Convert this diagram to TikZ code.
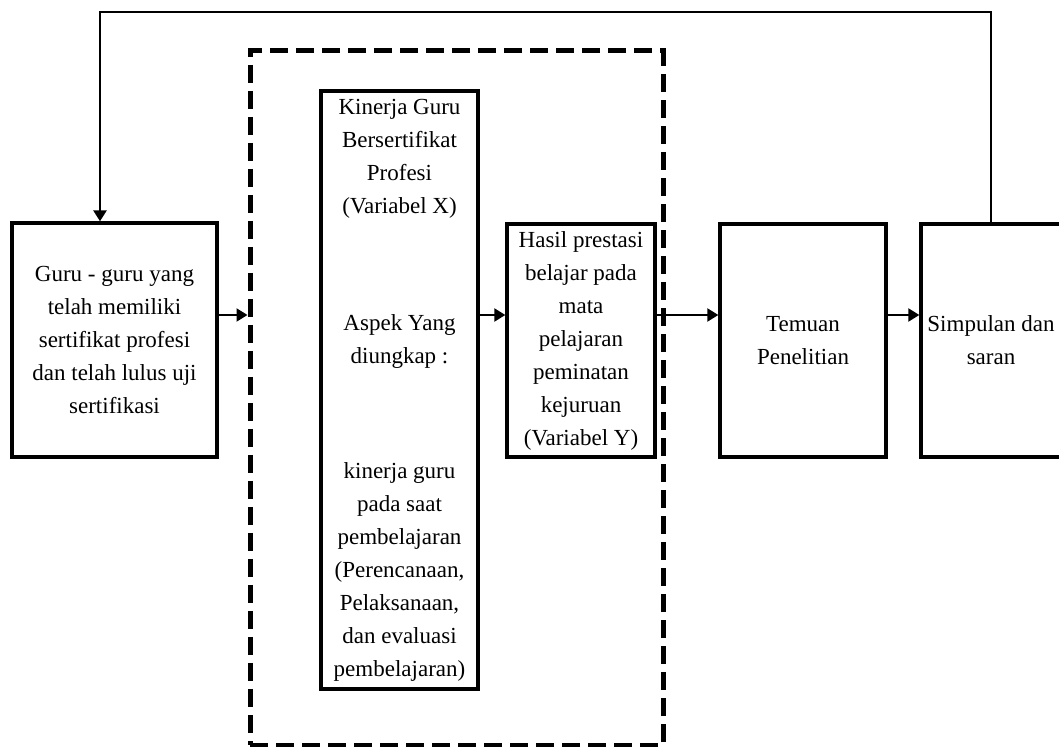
\documentclass[tikz,border=0pt]{standalone}
\usepackage{fontspec}
\setmainfont{Liberation Serif}
\usetikzlibrary{arrows.meta}

\begin{document}
\begin{tikzpicture}[x=0.5pt,y=-0.5pt]
\tikzstyle{box}=[draw, black, line width=1.65pt, align=center, inner sep=0pt, font=\fontsize{11.5pt}{16.5pt}\selectfont]
\tikzstyle{arr}=[black, line width=1pt, -{Triangle[length=5.5pt,width=6.5pt]}]
\tikzstyle{frame}=[draw, black, line width=2.5pt, dash pattern=on 9pt off 4pt, inner sep=0pt]
\useasboundingbox (0,0) rectangle (1059,747);
\node [box, minimum width=102.5pt, minimum height=117pt] (guru) at (114.5,340) {Guru - guru yang\\telah memiliki\\sertifikat profesi\\dan telah lulus uji\\sertifikasi};
\node [frame, minimum width=206.5pt, minimum height=347pt] (kerangka) at (456.5,398) {};
\node [box, minimum width=78.5pt, minimum height=299pt] (varx) at (399.5,390) {Kinerja Guru\\Bersertifikat\\Profesi\\(Variabel X)\\[42pt]Aspek Yang\\diungkap :\\[41pt]kinerja guru\\pada saat\\pembelajaran\\(Perencanaan,\\Pelaksanaan,\\dan evaluasi\\pembelajaran)};
\node [box, minimum width=74pt, minimum height=116.5pt] (vary) at (581,340.5) {Hasil prestasi\\belajar pada\\mata\\pelajaran\\peminatan\\kejuruan\\(Variabel Y)};
\node [box, minimum width=83pt, minimum height=116.5pt] (temuan) at (803,340.5) {Temuan\\Penelitian};
\node [box, minimum width=70pt, minimum height=116.5pt] (simpulan) at (991,340.5) {Simpulan dan\\saran};
\coordinate (baris) at (0,315);
\coordinate (atas) at (100,12);
\draw [arr] (guru.east |- baris) -- (kerangka.west |- baris);
\draw [arr] (varx.east |- baris) -- (vary.west |- baris);
\draw [arr] (vary.east |- baris) -- (temuan.west |- baris);
\draw [arr] (temuan.east |- baris) -- (simpulan.west |- baris);
\draw [arr, line width=1.3pt] (simpulan.north) |- (atas) -- (atas |- guru.north);
\end{tikzpicture}
\end{document}
